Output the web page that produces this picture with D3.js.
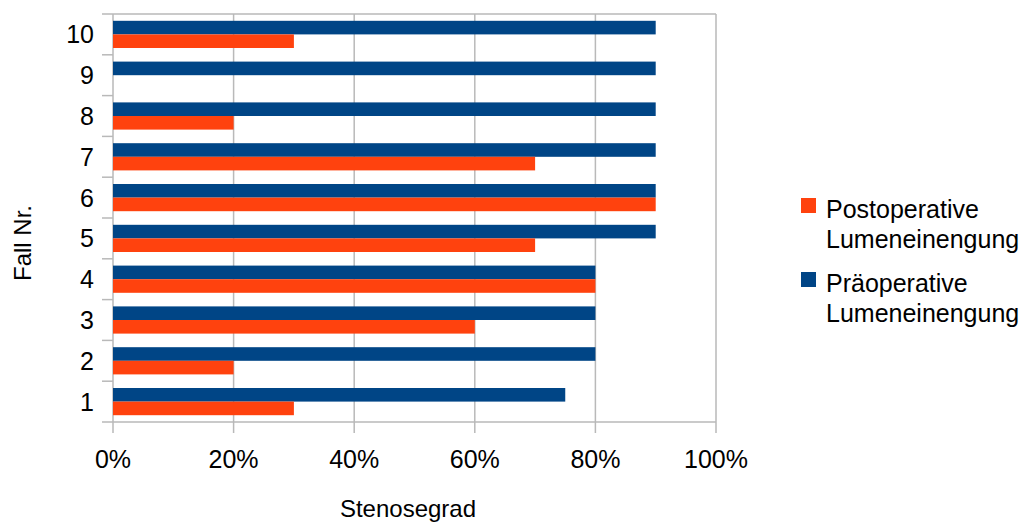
<!DOCTYPE html>
<html>
<head>
<meta charset="utf-8">
<script src="https://cdn.jsdelivr.net/npm/d3@7.9.0/dist/d3.min.js"></script>
<style>
  body { margin: 0; background: #fff; }
  svg { display: block; font-family: "Liberation Sans", Arial, sans-serif; }
</style>
</head>
<body>
<svg id="chart" width="1025" height="522"></svg>
<script>
// data
const cases = ['1', '2', '3', '4', '5', '6', '7', '8', '9', '10'];
const preOp = [0.75, 0.8, 0.8, 0.8, 0.9, 0.9, 0.9, 0.9, 0.9, 0.9];
const postOp = [0.3, 0.2, 0.6, 0.8, 0.7, 0.9, 0.7, 0.2, 0, 0.3];
const xTicks = [0, 0.2, 0.4, 0.6, 0.8, 1];

const colors = { pre: '#004586', post: '#ff420e' };
const gridColor = '#b9b9b9';

// plot box
const plotLeft = 113, plotRight = 716, plotTop = 14, plotBottom = 422;

const svg = d3.select('#chart');

const x = d3.scaleLinear().domain([0, 1]).range([plotLeft, plotRight]);

const y = d3.scaleBand()
    .domain(cases.slice().reverse())
    .range([plotTop, plotBottom])
    .paddingInner(1 / 3)
    .paddingOuter(1 / 6);

const inner = d3.scaleBand()
    .domain(['pre', 'post'])
    .range([0, y.bandwidth()]);

const rows = cases.map((c, i) => ({ c, pre: preOp[i], post: postOp[i] }));

// vertical grid lines
svg.append('g')
    .selectAll('line')
    .data(xTicks)
    .join('line')
    .attr('x1', d => x(d)).attr('x2', d => x(d))
    .attr('y1', plotTop).attr('y2', plotBottom + 11)
    .attr('stroke', gridColor)
    .attr('stroke-width', 1.5);

// category boundary ticks
const bounds = cases.map(c => y(c) - y.step() * y.paddingInner() / 2).concat([plotBottom]);
svg.append('g')
    .selectAll('line')
    .data(bounds)
    .join('line')
    .attr('x1', plotLeft - 11).attr('x2', plotLeft)
    .attr('y1', d => d).attr('y2', d => d)
    .attr('stroke', gridColor)
    .attr('stroke-width', 1.5);

svg.append('line')
    .attr('x1', plotLeft).attr('x2', plotRight)
    .attr('y1', plotTop).attr('y2', plotTop)
    .attr('stroke', gridColor).attr('stroke-width', 1.5);
svg.append('line')
    .attr('x1', plotLeft).attr('x2', plotRight)
    .attr('y1', plotBottom).attr('y2', plotBottom)
    .attr('stroke', gridColor).attr('stroke-width', 1.5);

// bars
const groups = svg.append('g')
    .selectAll('g')
    .data(rows)
    .join('g')
    .attr('transform', d => `translate(0,${y(d.c)})`);

['pre', 'post'].forEach(key => {
    groups.append('rect')
        .attr('x', x(0))
        .attr('y', inner(key))
        .attr('width', d => x(d[key]) - x(0))
        .attr('height', inner.bandwidth())
        .attr('fill', colors[key]);
});

// y tick labels
svg.append('g')
    .selectAll('text')
    .data(cases)
    .join('text')
    .attr('x', 94)
    .attr('y', d => y(d) + y.bandwidth() / 2)
    .attr('dy', '0.36em')
    .attr('text-anchor', 'end')
    .attr('font-size', 25)
    .text(d => d);

// x tick labels
svg.append('g')
    .selectAll('text')
    .data(xTicks)
    .join('text')
    .attr('x', d => x(d))
    .attr('y', 468)
    .attr('text-anchor', 'middle')
    .attr('font-size', 25)
    .text(d => d3.format('.0%')(d));

// axis titles
svg.append('text')
    .attr('x', 408).attr('y', 517)
    .attr('text-anchor', 'middle')
    .attr('font-size', 24)
    .text('Stenosegrad');

svg.append('text')
    .attr('transform', 'translate(31,243) rotate(-90)')
    .attr('text-anchor', 'middle')
    .attr('font-size', 24)
    .text('Fall Nr.');

// legend
const legendItems = [
    { key: 'post', lines: ['Postoperative', 'Lumeneinengung'] },
    { key: 'pre', lines: ['Präoperative', 'Lumeneinengung'] }
];
const legend = svg.append('g');
legendItems.forEach((item, i) => {
    const base = 218 + i * 74;
    legend.append('rect')
        .attr('x', 801).attr('y', base - 20)
        .attr('width', 15).attr('height', 15)
        .attr('fill', colors[item.key]);
    legend.append('text')
        .attr('x', 826).attr('y', base)
        .attr('font-size', 25)
        .selectAll('tspan')
        .data(item.lines)
        .join('tspan')
        .attr('x', 826)
        .attr('dy', (d, j) => j === 0 ? 0 : 30)
        .text(d => d);
});
</script>
</body>
</html>
